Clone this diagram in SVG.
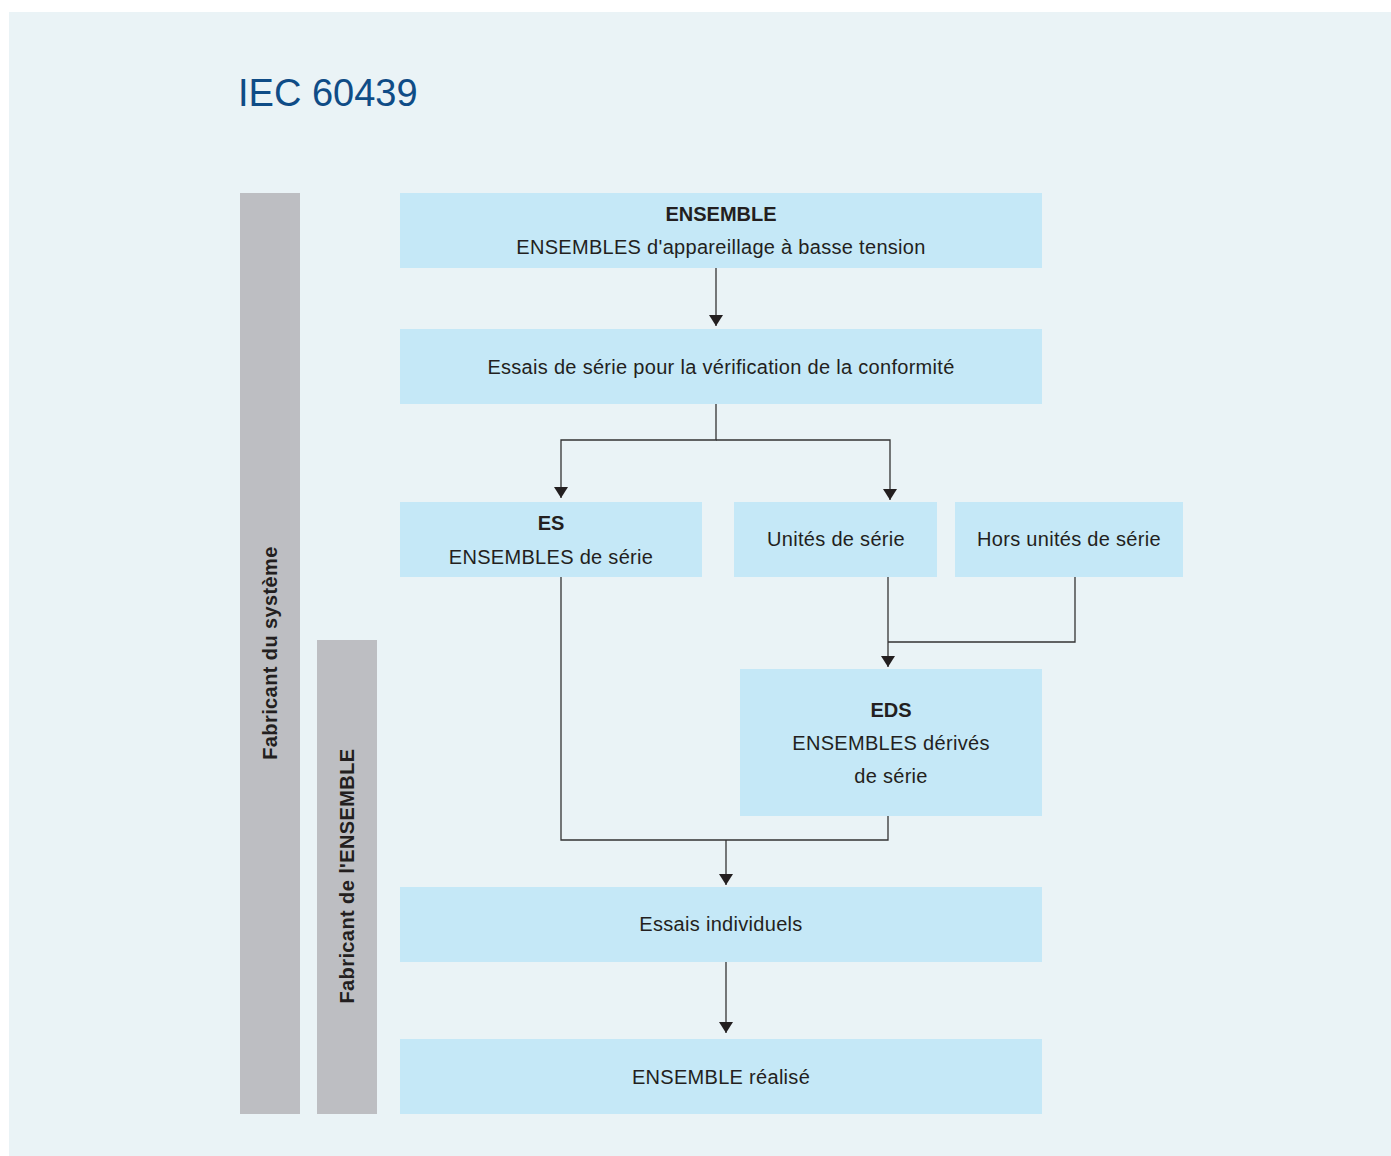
<svg xmlns="http://www.w3.org/2000/svg" width="1391" height="1156" viewBox="0 0 1391 1156">
<defs>
<style>
.bg{fill:#eaf3f6}
.box{fill:#c5e8f7}
.bar{fill:#bdbec2}
.t{font-family:"Liberation Sans",Arial,sans-serif;font-size:20px;letter-spacing:0.3px;fill:#231f20;text-anchor:middle}
.b{font-weight:bold;letter-spacing:0}
.side{font-family:"Liberation Sans",Arial,sans-serif;font-size:20px;letter-spacing:0.4px;fill:#231f20;text-anchor:middle;font-weight:bold}
.title{font-family:"Liberation Sans",Arial,sans-serif;font-size:38px;fill:#0f4c86}
.c{fill:none;stroke:#333;stroke-width:1.3}
</style>
<marker id="ah" viewBox="0 0 11 14" refX="11" refY="7" markerWidth="11" markerHeight="14" markerUnits="userSpaceOnUse" orient="auto">
<path d="M0,0 L11,7 L0,14 Z" fill="#231f20"/>
</marker>
</defs>
<rect x="0" y="0" width="1391" height="1156" fill="#ffffff"/>
<rect class="bg" x="9" y="12" width="1382" height="1144"/>
<text class="title" x="238" y="106">IEC 60439</text>

<g id="bar-systeme">
<rect class="bar" x="240" y="193" width="60" height="921"/>
<text class="side" transform="translate(277,653) rotate(-90)">Fabricant du système</text>
</g>
<g id="bar-ensemble">
<rect class="bar" x="317" y="640" width="60" height="474"/>
<text class="side" transform="translate(354,876) rotate(-90)">Fabricant de l'ENSEMBLE</text>
</g>

<g id="connectors">
<path class="c" d="M716,268 V326" marker-end="url(#ah)"/>
<path class="c" d="M716,404 V440 H561 V498" marker-end="url(#ah)"/>
<path class="c" d="M716,440 H890 V500" marker-end="url(#ah)"/>
<path class="c" d="M888,577 V667" marker-end="url(#ah)"/>
<path class="c" d="M1075,577 V642 H888"/>
<path class="c" d="M561,577 V840 H888 V816"/>
<path class="c" d="M726,840 V885" marker-end="url(#ah)"/>
<path class="c" d="M726,962 V1033" marker-end="url(#ah)"/>
</g>

<g id="node-ensemble">
<rect class="box" x="400" y="193" width="642" height="75"/>
<text class="t b" x="721" y="221">ENSEMBLE</text>
<text class="t" x="721" y="254">ENSEMBLES d'appareillage à basse tension</text>
</g>
<g id="node-essais-serie">
<rect class="box" x="400" y="329" width="642" height="75"/>
<text class="t" x="721" y="374">Essais de série pour la vérification de la conformité</text>
</g>
<g id="node-es">
<rect class="box" x="400" y="502" width="302" height="75"/>
<text class="t b" x="551" y="530">ES</text>
<text class="t" x="551" y="564">ENSEMBLES de série</text>
</g>
<g id="node-unites">
<rect class="box" x="734" y="502" width="203" height="75"/>
<text class="t" x="836" y="546">Unités de série</text>
</g>
<g id="node-hors">
<rect class="box" x="955" y="502" width="228" height="75"/>
<text class="t" x="1069" y="546">Hors unités de série</text>
</g>
<g id="node-eds">
<rect class="box" x="740" y="669" width="302" height="147"/>
<text class="t b" x="891" y="717">EDS</text>
<text class="t" x="891" y="750">ENSEMBLES dérivés</text>
<text class="t" x="891" y="783">de série</text>
</g>
<g id="node-individuels">
<rect class="box" x="400" y="887" width="642" height="75"/>
<text class="t" x="721" y="931">Essais individuels</text>
</g>
<g id="node-realise">
<rect class="box" x="400" y="1039" width="642" height="75"/>
<text class="t" x="721" y="1084">ENSEMBLE réalisé</text>
</g>
</svg>
